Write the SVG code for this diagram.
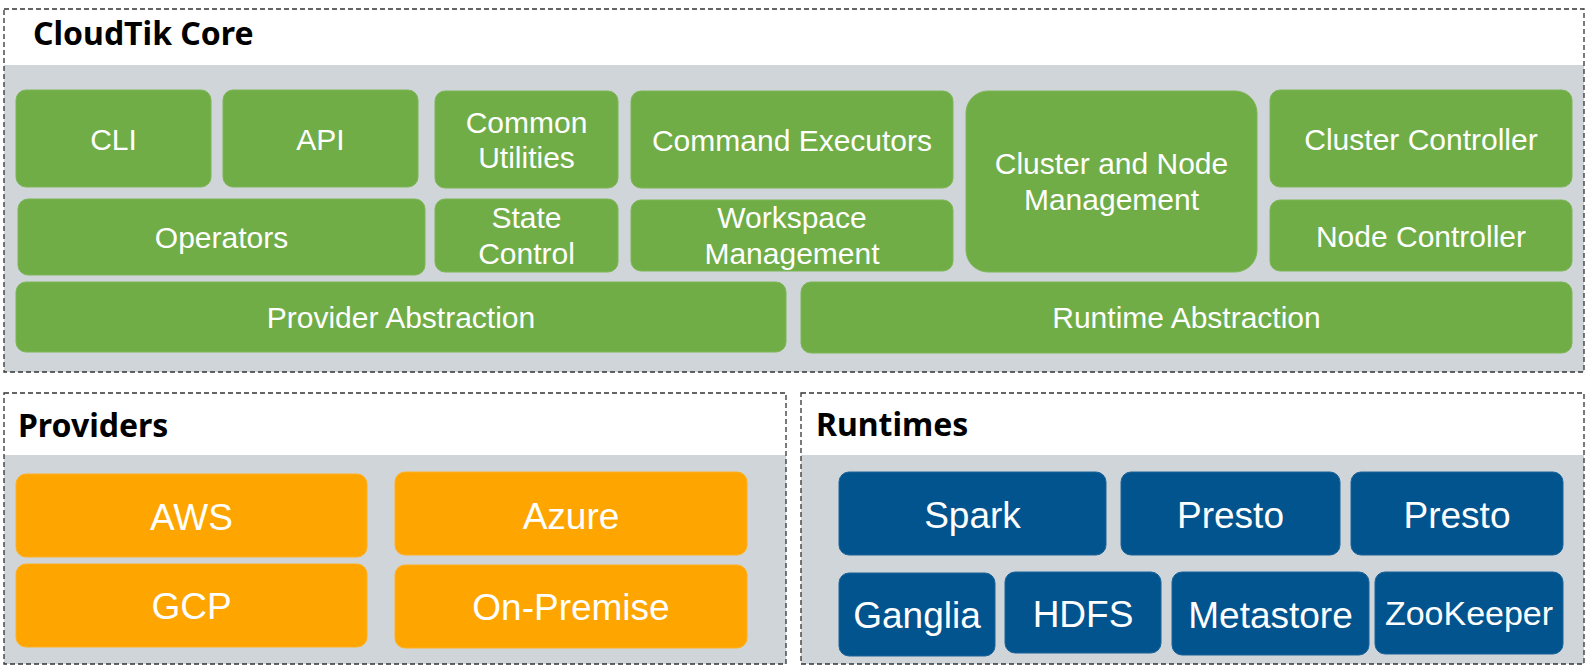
<svg xmlns="http://www.w3.org/2000/svg" width="1591" height="670" viewBox="0 0 1591 670">
<style>
.frame{fill:none;stroke:#333;stroke-width:1.3;stroke-dasharray:5 3}
.band{fill:#D0D5D9}
.hdr{font-family:"Noto Sans","Open Sans",sans-serif;font-weight:bold;font-size:32px;fill:#000}
.g{fill:#70AD47;stroke:#7DB656;stroke-width:1}
.o{fill:#FFA500;stroke:#FFB020;stroke-width:1}
.b{fill:#02548F;stroke:#1A6399;stroke-width:1}
.t{font-family:"Liberation Sans",Arial,sans-serif;fill:#fff;text-anchor:middle;font-size:30px}
.tl{font-family:"Liberation Sans",Arial,sans-serif;fill:#fff;text-anchor:middle;font-size:37px}
</style>
<rect width="1591" height="670" fill="#fff"/>
<g id="core">
<rect class="band" x="4" y="65" width="1580" height="307"/>
<rect class="frame" x="4" y="9" width="1580" height="363"/>
<text class="hdr" x="33" y="45">CloudTik Core</text>
</g>
<g id="providers">
<rect class="band" x="4" y="455" width="782" height="209"/>
<rect class="frame" x="4" y="393" width="782" height="271"/>
<text class="hdr" x="18" y="437">Providers</text>
</g>
<g id="runtimes">
<rect class="band" x="801" y="455" width="783" height="209"/>
<rect class="frame" x="801" y="393" width="783" height="271"/>
<text class="hdr" x="816" y="436">Runtimes</text>
</g>
<g id="cli"><rect class="g" x="16" y="90" width="195" height="97" rx="10"/><text class="t" x="113.5" y="150">CLI</text></g>
<g id="api"><rect class="g" x="223" y="90" width="195" height="97" rx="10"/><text class="t" x="320.5" y="150">API</text></g>
<g id="common-utilities"><rect class="g" x="435" y="91" width="183" height="97" rx="10"/><text class="t" x="526.5" y="133">Common</text><text class="t" x="526.5" y="168">Utilities</text></g>
<g id="command-executors"><rect class="g" x="631" y="91" width="322" height="97" rx="10"/><text class="t" x="792" y="151">Command Executors</text></g>
<g id="cluster-node-mgmt"><rect class="g" x="966" y="91" width="291" height="181" rx="22"/><text class="t" x="1111.5" y="174">Cluster and Node</text><text class="t" x="1111.5" y="210">Management</text></g>
<g id="cluster-controller"><rect class="g" x="1270" y="90" width="302" height="97" rx="10"/><text class="t" x="1421" y="150">Cluster Controller</text></g>
<g id="operators"><rect class="g" x="18" y="199" width="407" height="76" rx="10"/><text class="t" x="221.5" y="248">Operators</text></g>
<g id="state-control"><rect class="g" x="435" y="199" width="183" height="73" rx="10"/><text class="t" x="526.5" y="228">State</text><text class="t" x="526.5" y="264">Control</text></g>
<g id="workspace-mgmt"><rect class="g" x="631" y="200" width="322" height="71" rx="10"/><text class="t" x="792" y="228">Workspace</text><text class="t" x="792" y="264">Management</text></g>
<g id="node-controller"><rect class="g" x="1270" y="200" width="302" height="71" rx="10"/><text class="t" x="1421" y="247">Node Controller</text></g>
<g id="provider-abstraction"><rect class="g" x="16" y="282" width="770" height="70" rx="10"/><text class="t" x="401" y="328">Provider Abstraction</text></g>
<g id="runtime-abstraction"><rect class="g" x="801" y="282" width="771" height="71" rx="10"/><text class="t" x="1186.5" y="328">Runtime Abstraction</text></g>
<g id="aws"><rect class="o" x="16" y="474" width="351" height="83" rx="10"/><text class="tl" x="191.5" y="530">AWS</text></g>
<g id="azure"><rect class="o" x="395" y="472" width="352" height="83" rx="10"/><text class="tl" x="571" y="529">Azure</text></g>
<g id="gcp"><rect class="o" x="16" y="564" width="351" height="83" rx="10"/><text class="tl" x="191.5" y="619">GCP</text></g>
<g id="on-premise"><rect class="o" x="395" y="565" width="352" height="83" rx="10"/><text class="tl" x="571" y="620">On-Premise</text></g>
<g id="spark"><rect class="b" x="839" y="472" width="267" height="83" rx="10"/><text class="tl" x="972.5" y="528">Spark</text></g>
<g id="presto-1"><rect class="b" x="1121" y="472" width="219" height="83" rx="10"/><text class="tl" x="1230.5" y="528">Presto</text></g>
<g id="presto-2"><rect class="b" x="1351" y="472" width="212" height="83" rx="10"/><text class="tl" x="1457" y="528">Presto</text></g>
<g id="ganglia"><rect class="b" x="839" y="573" width="156" height="83" rx="10"/><text class="tl" x="917" y="628">Ganglia</text></g>
<g id="hdfs"><rect class="b" x="1005" y="572" width="156" height="81" rx="10"/><text class="tl" x="1083" y="627">HDFS</text></g>
<g id="metastore"><rect class="b" x="1172" y="572" width="197" height="83" rx="10"/><text class="tl" x="1270.5" y="628">Metastore</text></g>
<g id="zookeeper"><rect class="b" x="1375" y="572" width="188" height="82" rx="10"/><text class="tl" x="1469" y="625" style="font-size:34px">ZooKeeper</text></g>
<g id="connectors"/>
</svg>
